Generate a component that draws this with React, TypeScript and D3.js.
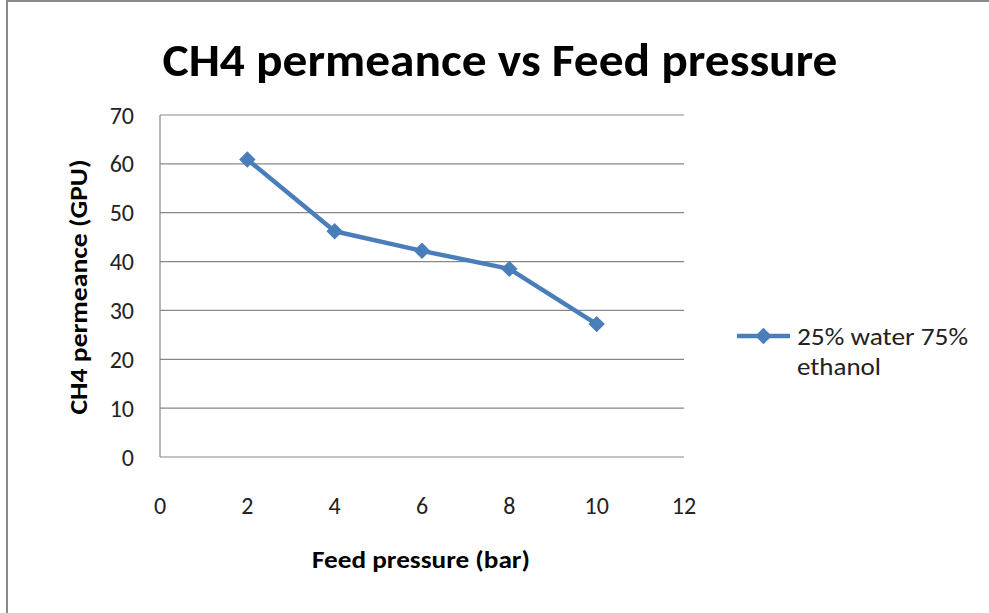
import React, { useEffect, useRef } from 'react';
import * as d3 from 'd3';

// data
const pressures = [2, 4, 6, 8, 10];
const permeance = [60.9, 46.2, 42.2, 38.5, 27.2];
const xTicks = [0, 2, 4, 6, 8, 10, 12];
const yTicks = [0, 10, 20, 30, 40, 50, 60, 70];
const seriesName = ['25% water 75%', 'ethanol'];

const W = 989;
const H = 613;
const FONT = "Carlito, 'Open Sans', 'Liberation Sans', sans-serif";
const BLUE = '#4A7EBB';
const GRID = '#878787';

const App = () => {
  const svgRef = useRef<SVGSVGElement>(null);

  useEffect(() => {
    const svg = d3.select(svgRef.current);
    svg.selectAll('*').remove();

    svg.append('rect').attr('width', W).attr('height', H).attr('fill', '#fff');

    // outer chart frame (only top and left visible)
    svg.append('path')
      .attr('d', `M7,${H} L7,1 L${W},1`)
      .attr('fill', 'none')
      .attr('stroke', '#8a8a8a')
      .attr('stroke-width', 2);

    const x = d3.scaleLinear().domain([0, 12]).range([160, 684]);
    const y = d3.scaleLinear().domain([0, 70]).range([457, 115]);

    // title
    svg.append('text')
      .attr('x', 500)
      .attr('y', 76)
      .attr('text-anchor', 'middle')
      .attr('textLength', 675)
      .attr('lengthAdjust', 'spacingAndGlyphs')
      .style('font-family', FONT)
      .style('font-weight', 'bold')
      .style('font-size', '47px')
      .text('CH4 permeance vs Feed pressure');

    // gridlines
    svg.append('g')
      .selectAll('line')
      .data(yTicks)
      .join('line')
      .attr('x1', x(0))
      .attr('x2', x(12))
      .attr('y1', d => y(d))
      .attr('y2', d => y(d))
      .attr('stroke', GRID)
      .attr('stroke-width', 1.2);

    // y axis line
    svg.append('line')
      .attr('x1', x(0)).attr('x2', x(0))
      .attr('y1', y(0)).attr('y2', y(70))
      .attr('stroke', GRID)
      .attr('stroke-width', 1.2);

    // tick labels
    svg.append('g')
      .selectAll('text')
      .data(yTicks)
      .join('text')
      .attr('x', 134)
      .attr('y', d => y(d) + 8.5)
      .attr('text-anchor', 'end')
      .style('font-family', FONT)
      .style('font-size', '24px')
      .style('fill', '#222')
      .text(d => d);

    svg.append('g')
      .selectAll('text')
      .data(xTicks)
      .join('text')
      .attr('x', d => x(d))
      .attr('y', 514)
      .attr('text-anchor', 'middle')
      .style('font-family', FONT)
      .style('font-size', '24px')
      .style('fill', '#222')
      .text(d => d);

    // axis titles
    svg.append('text')
      .attr('x', 421)
      .attr('y', 568)
      .attr('text-anchor', 'middle')
      .attr('textLength', 218)
      .attr('lengthAdjust', 'spacingAndGlyphs')
      .style('font-family', FONT)
      .style('font-weight', 'bold')
      .style('font-size', '24px')
      .text('Feed pressure (bar)');

    svg.append('text')
      .attr('transform', 'translate(87,287) rotate(-90)')
      .attr('text-anchor', 'middle')
      .attr('textLength', 255)
      .attr('lengthAdjust', 'spacingAndGlyphs')
      .style('font-family', FONT)
      .style('font-weight', 'bold')
      .style('font-size', '24px')
      .text('CH4 permeance (GPU)');

    // series
    const pts = pressures.map((p, i) => [p, permeance[i]] as [number, number]);
    const line = d3.line<[number, number]>()
      .x(d => x(d[0]))
      .y(d => y(d[1]));

    svg.append('path')
      .datum(pts)
      .attr('d', line)
      .attr('fill', 'none')
      .attr('stroke', BLUE)
      .attr('stroke-width', 4.5)
      .attr('stroke-linejoin', 'round');

    const diamond = d3.symbol().type(d3.symbolSquare).size(135);
    svg.append('g')
      .selectAll('path')
      .data(pts)
      .join('path')
      .attr('d', diamond)
      .attr('transform', d => `translate(${x(d[0])},${y(d[1])}) rotate(45)`)
      .attr('fill', BLUE);

    // legend
    const legendLen = [171, 84];
    const lg = svg.append('g');
    lg.append('line')
      .attr('x1', 737).attr('x2', 790)
      .attr('y1', 336).attr('y2', 336)
      .attr('stroke', BLUE)
      .attr('stroke-width', 4.5);
    lg.append('path')
      .attr('d', diamond)
      .attr('transform', 'translate(763.5,336) rotate(45)')
      .attr('fill', BLUE);
    lg.selectAll('text')
      .data(seriesName)
      .join('text')
      .attr('x', 797)
      .attr('y', (d, i) => 345 + i * 30)
      .attr('textLength', (d, i) => legendLen[i])
      .attr('lengthAdjust', 'spacingAndGlyphs')
      .style('font-family', FONT)
      .style('font-size', '24px')
      .style('fill', '#222')
      .text(d => d);
  }, []);

  return (
    <svg
      ref={svgRef}
      width={W}
      height={H}
      style={{ position: 'absolute', left: 0, top: 0 }}
    />
  );
};

export default App;
